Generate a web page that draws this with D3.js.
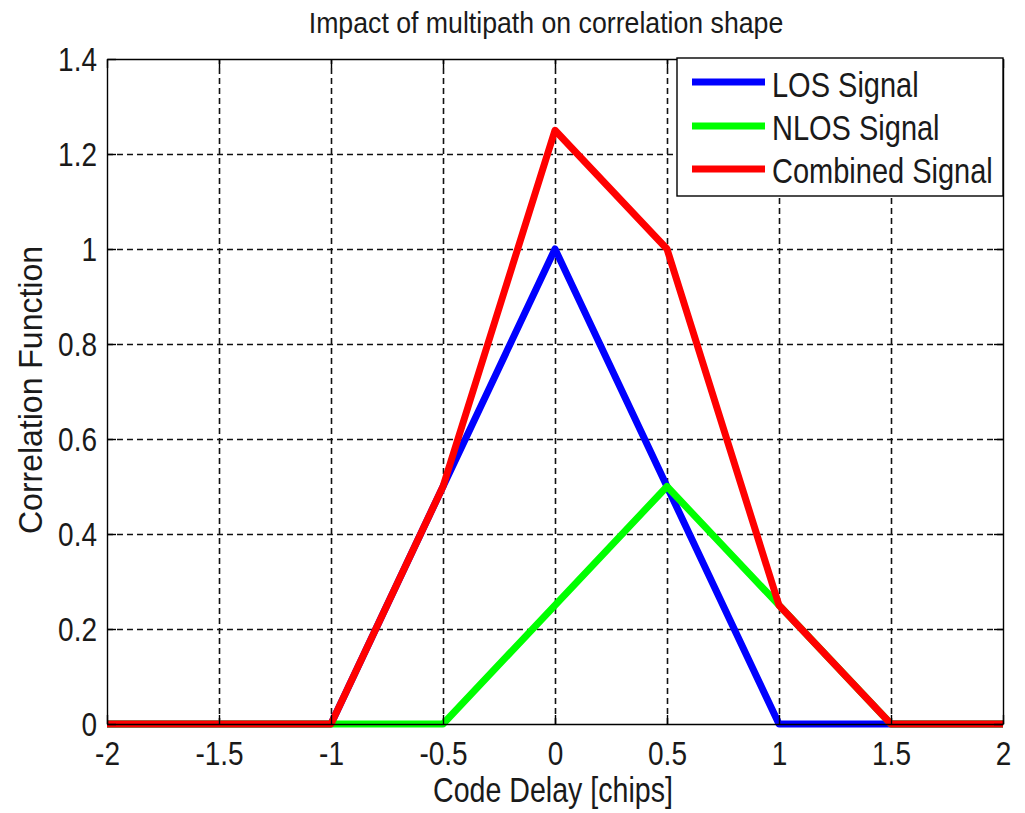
<!DOCTYPE html>
<html>
<head>
<meta charset="utf-8">
<script src="https://cdn.jsdelivr.net/npm/d3@7"></script>
<style>
  html, body { margin: 0; padding: 0; background: #fff; }
  svg { display: block; font-family: "Liberation Sans", Arial, sans-serif; }
  text { fill: #1a1a1a; }
</style>
</head>
<body>
<svg id="chart" width="1025" height="813"></svg>
<script>
// Code delay breakpoints (chips) and correlation values of each signal
const losDelay = [-2, -1, 0, 1, 2];
const losCorr = [0, 0, 1, 0, 0];

const nlosDelay = [-2, -0.5, 0.5, 1.5, 2];
const nlosCorr = [0, 0, 0.5, 0, 0];

const combDelay = [-2, -1, -0.5, 0, 0.5, 1, 1.5, 2];
const combCorr = [0, 0, 0.5, 1.25, 1.0, 0.25, 0, 0];

const xTicks = [-2, -1.5, -1, -0.5, 0, 0.5, 1, 1.5, 2];
const yTicks = [0, 0.2, 0.4, 0.6, 0.8, 1, 1.2, 1.4];

const seriesNames = ["LOS Signal", "NLOS Signal", "Combined Signal"];
const seriesColors = ["#0000ff", "#00ff00", "#ff0000"];

const titleText = "Impact of multipath on correlation shape";
const xLabelText = "Code Delay [chips]";
const yLabelText = "Correlation Function";

// Layout
const L = 107, R = 1003, T = 59, B = 724;
const stretch = 1.17; // tall glyph rendering

const svg = d3.select("#chart");

const x = d3.scaleLinear().domain([-2, 2]).range([L, R]);
const y = d3.scaleLinear().domain([0, 1.4]).range([B, T]);

// Dashed grid
const gridStyle = g => {
  g.select(".domain").remove();
  g.selectAll(".tick line")
    .attr("stroke", "#111")
    .attr("stroke-width", 1.6)
    .attr("stroke-dasharray", "6,4");
  g.selectAll("text").remove();
};
svg.append("g")
  .attr("transform", `translate(0,${B})`)
  .call(d3.axisBottom(x).tickValues(xTicks.slice(1, -1)).tickSize(-(B - T)).tickFormat(""))
  .call(gridStyle);
svg.append("g")
  .attr("transform", `translate(${L},0)`)
  .call(d3.axisLeft(y).tickValues(yTicks.slice(1, -1)).tickSize(-(R - L)).tickFormat(""))
  .call(gridStyle);

// Signal curves
const lineGen = d3.line().x(d => x(d[0])).y(d => y(d[1]));
const series = [
  d3.zip(losDelay, losCorr),
  d3.zip(nlosDelay, nlosCorr),
  d3.zip(combDelay, combCorr)
];
series.forEach((pts, i) => {
  svg.append("path")
    .datum(pts)
    .attr("d", lineGen)
    .attr("fill", "none")
    .attr("stroke", seriesColors[i])
    .attr("stroke-width", 7)
    .attr("stroke-linejoin", "round")
    .attr("stroke-linecap", "butt");
});

// Axes with inward ticks on all four sides
const tickLen = 9;
const styleAxis = g => {
  g.select(".domain").attr("stroke", "#000").attr("stroke-width", 1.4);
  g.selectAll(".tick line").attr("stroke", "#000").attr("stroke-width", 1.4);
};
const xBottom = svg.append("g")
  .attr("transform", `translate(0,${B})`)
  .call(d3.axisBottom(x).tickValues(xTicks).tickSize(-tickLen).tickSizeOuter(0).tickFormat(d => String(d)))
  .call(styleAxis);
xBottom.selectAll("text")
  .attr("y", 0).attr("dy", null)
  .attr("transform", `translate(0,41) scale(1,${stretch})`)
  .attr("fill", "#1a1a1a")
  .attr("font-size", 28)
  .attr("font-family", "Liberation Sans, Arial, sans-serif");

svg.append("g")
  .attr("transform", `translate(0,${T})`)
  .call(d3.axisTop(x).tickValues(xTicks).tickSize(-tickLen).tickSizeOuter(0).tickFormat(""))
  .call(styleAxis);

const yLeft = svg.append("g")
  .attr("transform", `translate(${L},0)`)
  .call(d3.axisLeft(y).tickValues(yTicks).tickSize(-tickLen).tickSizeOuter(0).tickFormat(d => String(d)))
  .call(styleAxis);
yLeft.selectAll("text")
  .attr("x", 0).attr("dy", null)
  .attr("text-anchor", "end")
  .attr("transform", `translate(-10,11) scale(1,${stretch})`)
  .attr("fill", "#1a1a1a")
  .attr("font-size", 28)
  .attr("font-family", "Liberation Sans, Arial, sans-serif");

svg.append("g")
  .attr("transform", `translate(${R},0)`)
  .call(d3.axisRight(y).tickValues(yTicks).tickSize(-tickLen).tickSizeOuter(0).tickFormat(""))
  .call(styleAxis);

// Title and axis labels
svg.append("text")
  .attr("transform", `translate(546,33) scale(1,1.08)`)
  .attr("text-anchor", "middle")
  .attr("font-size", 26.7)
  .text(titleText);

svg.append("text")
  .attr("transform", `translate(553,802) scale(1,1.2)`)
  .attr("text-anchor", "middle")
  .attr("font-size", 28.6)
  .text(xLabelText);

svg.append("text")
  .attr("transform", `translate(42,390) rotate(-90) scale(1,1.05)`)
  .attr("text-anchor", "middle")
  .attr("font-size", 32)
  .text(yLabelText);

// Legend
const lg = svg.append("g");
lg.append("rect")
  .attr("x", 677).attr("y", 58)
  .attr("width", R - 677).attr("height", 138)
  .attr("fill", "#fff")
  .attr("stroke", "#000")
  .attr("stroke-width", 1.4);
const rowLine = [82, 126, 169];
const rowText = [97, 140, 183];
seriesNames.forEach((name, i) => {
  lg.append("line")
    .attr("x1", 692).attr("x2", 765)
    .attr("y1", rowLine[i]).attr("y2", rowLine[i])
    .attr("stroke", seriesColors[i])
    .attr("stroke-width", 7);
  lg.append("text")
    .attr("transform", `translate(772,${rowText[i]}) scale(1,1.2)`)
    .attr("font-size", 29)
    .text(name);
});
</script>
</body>
</html>
